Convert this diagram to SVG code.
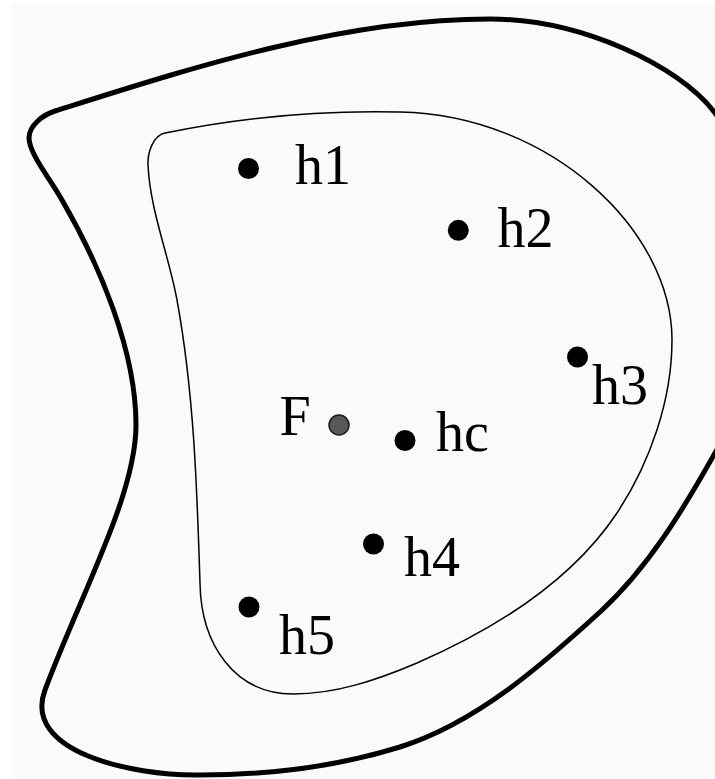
<svg xmlns="http://www.w3.org/2000/svg" width="715" height="779" viewBox="0 0 715 779">
<style>
.bg{fill:#fafafa}
.outer{fill:none;stroke:#000;stroke-width:5;stroke-linejoin:round}
.inner{fill:none;stroke:#000;stroke-width:1.5}
.dot{fill:#000}
.fdot{fill:#595959;stroke:#1a1a1a;stroke-width:1.5}
.lbl{font-family:"Liberation Serif","Times New Roman",serif;font-size:56px;fill:#000}
</style>
<rect x="0" y="0" width="715" height="779" fill="#ffffff"/>
<rect class="bg" x="11" y="4" width="704" height="775"/>
<g id="regions">
<path id="outer-region" class="outer" d="M 55,111 C 188,69 340,19 490,19 C 580,19 679,65 715,113 C 748,157 775,225 775,280 C 775,335 745,401 715,453 C 683,510 648,568 600,612 C 541,666 476,723 400,747 C 336,767 267,775 200,775 C 130,776 22,751 45,690 C 80,596 136,495 136,425 C 136,350 99.5,265 62,200 C 49.5,178 29,153 29,138 C 29,125 43.6,114.6 55,111 Z"/>
<path id="inner-region" class="inner" d="M 165,133 C 243,117 322,110 400,112 C 550,115 672,230 672,340 C 672,400 650,463 617,513 C 571,582 493,630 417,663 C 377,680 336,694 293,694 C 235,694 201,645 200,583 C 197,488 194,393 177,300 C 169,256 150,210 148,165 C 147.4,153 153,135.4 165,133 Z"/>
</g>
<g id="connectors"></g>
<g id="h1"><circle class="dot" cx="248.5" cy="168.5" r="10.5"/><text class="lbl" x="295" y="184">h1</text></g>
<g id="h2"><circle class="dot" cx="458.3" cy="230.3" r="10.5"/><text class="lbl" x="497.4" y="246.7">h2</text></g>
<g id="h3"><circle class="dot" cx="577.5" cy="357" r="10.5"/><text class="lbl" x="592" y="404">h3</text></g>
<g id="F"><circle class="fdot" cx="339" cy="425" r="10"/><text class="lbl" x="279.5" y="435">F</text></g>
<g id="hc"><circle class="dot" cx="405" cy="440.5" r="10.5"/><text class="lbl" x="436" y="451">hc</text></g>
<g id="h4"><circle class="dot" cx="373.5" cy="544" r="10.5"/><text class="lbl" x="404" y="576">h4</text></g>
<g id="h5"><circle class="dot" cx="249" cy="607" r="10.5"/><text class="lbl" x="279" y="654">h5</text></g>
</svg>
